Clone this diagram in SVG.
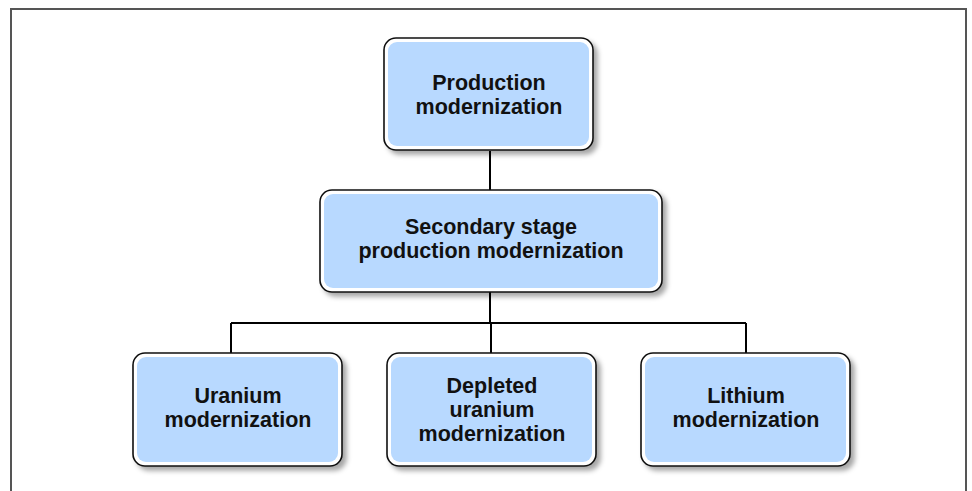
<svg xmlns="http://www.w3.org/2000/svg" width="972" height="491" viewBox="0 0 972 491">
<defs>
<filter id="sh" x="-10%" y="-10%" width="130%" height="140%">
<feDropShadow dx="4" dy="4" stdDeviation="2.5" flood-color="#000" flood-opacity="0.35"/>
</filter>
</defs>
<style>
.outer{fill:#fff;stroke:#111;stroke-width:1.6;filter:url(#sh)}
.inner{fill:#b8d9ff}
.t{font-family:"Liberation Sans",Arial,sans-serif;font-weight:bold;font-size:21.5px;fill:#111;text-anchor:middle}
.c{stroke:#000;stroke-width:2;fill:none}
</style>
<rect width="972" height="491" fill="#fff"/>
<path d="M11 495 V9 H966 V495" fill="none" stroke="#555" stroke-width="2"/>
<g id="connectors">
<path class="c" d="M490 151 V190"/>
<path class="c" d="M490 292 V323 M231 323 H746 M231 323 V353 M491 323 V353 M746 323 V353"/>
</g>
<g id="n1">
<rect class="outer" x="384" y="38" width="209" height="112" rx="12"/>
<rect class="inner" x="388" y="42" width="201" height="104" rx="9"/>
<text class="t" x="489" y="90">Production</text>
<text class="t" x="489" y="114">modernization</text>
</g>
<g id="n2">
<rect class="outer" x="320" y="190" width="342" height="102" rx="12"/>
<rect class="inner" x="324" y="194" width="334" height="94" rx="9"/>
<text class="t" x="491" y="234">Secondary stage</text>
<text class="t" x="491" y="258">production modernization</text>
</g>
<g id="n3">
<rect class="outer" x="133" y="353" width="209" height="113" rx="12"/>
<rect class="inner" x="137" y="357" width="201" height="105" rx="9"/>
<text class="t" x="238" y="403">Uranium</text>
<text class="t" x="238" y="427">modernization</text>
</g>
<g id="n4">
<rect class="outer" x="387" y="353" width="209" height="113" rx="12"/>
<rect class="inner" x="391" y="357" width="201" height="105" rx="9"/>
<text class="t" x="492" y="393">Depleted</text>
<text class="t" x="492" y="417">uranium</text>
<text class="t" x="492" y="441">modernization</text>
</g>
<g id="n5">
<rect class="outer" x="641" y="353" width="209" height="113" rx="12"/>
<rect class="inner" x="645" y="357" width="201" height="105" rx="9"/>
<text class="t" x="746" y="403">Lithium</text>
<text class="t" x="746" y="427">modernization</text>
</g>
</svg>
